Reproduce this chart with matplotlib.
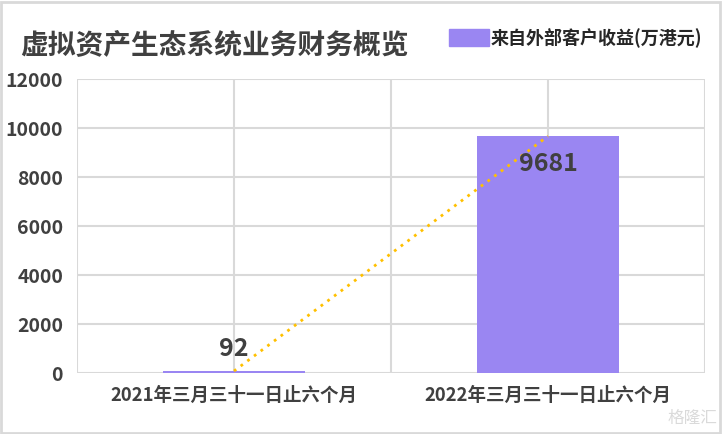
import matplotlib.pyplot as plt
from matplotlib.patches import Rectangle

plt.rcParams['font.family'] = ['Noto Sans CJK SC', 'DejaVu Sans']

categories = ['2021年三月三十一日止六个月', '2022年三月三十一日止六个月']
revenue = [92, 9681]
series_name = '来自外部客户收益(万港元)'
title = '虚拟资产生态系统业务财务概览'
yticks = [0, 2000, 4000, 6000, 8000, 10000, 12000]

bar_color = '#9A86F2'
text_color = '#404040'
grid_color = '#D9D9D9'

fig = plt.figure(figsize=(7.22, 4.34), dpi=100)
ax = fig.add_axes([0.1066, 0.1399, 0.8699, 0.6774])

x = list(range(len(categories)))
ax.bar(x, revenue, width=0.45, color=bar_color, zorder=3)
ax.plot(x, revenue, linestyle=(0, (1, 2)), color='#FFC000', linewidth=2, zorder=4)

# value labels
ax.text(0, revenue[0] + 420, f'{revenue[0]}', ha='center', va='bottom',
        fontsize=18, fontweight='bold', color=text_color, zorder=5)
ax.text(1, revenue[1] - 650, f'{revenue[1]}', ha='center', va='top',
        fontsize=18, fontweight='bold', color=text_color, zorder=5)

ax.set_xlim(-0.5, 1.5)
ax.set_ylim(0, 12000)
ax.set_yticks(yticks)
ax.set_yticklabels([str(v) for v in yticks])
ax.set_xticks(x)
ax.set_xticklabels(categories)
ax.tick_params(length=0, colors=text_color)
ax.tick_params(axis='y', labelsize=14, pad=10)
ax.tick_params(axis='x', labelsize=13.3, pad=9)
for lbl in ax.get_xticklabels() + ax.get_yticklabels():
    lbl.set_fontweight('bold')

# grid: horizontal every tick, vertical at centres and boundaries
for v in yticks:
    ax.axhline(v, color=grid_color, linewidth=1.5, zorder=1)
for xv in [-0.5, 0, 0.5, 1, 1.5]:
    ax.axvline(xv, color=grid_color, linewidth=1.5, zorder=1)
for s in ax.spines.values():
    s.set_visible(False)

fig.text(0.028, 0.894, title, fontsize=20, fontweight='bold', color=text_color,
         va='center', ha='left')

# legend
fig.patches.append(Rectangle((449 / 722, 1 - 46 / 434), 40 / 722, 17 / 434,
                             transform=fig.transFigure, color=bar_color))
fig.text(491 / 722, 1 - 37 / 434, series_name, fontsize=13, fontweight='bold',
         color='#262626', va='center', ha='left')

# watermark
fig.text(668 / 722, 1 - 418 / 434, '格隆汇', fontsize=12, color='#DADADA',
         va='center', ha='left')

fig.patches.append(Rectangle((0.002, 0.003), 0.995, 0.993, transform=fig.transFigure,
                             fill=False, edgecolor=grid_color, linewidth=2))

fig.savefig('out.png', dpi=100)
